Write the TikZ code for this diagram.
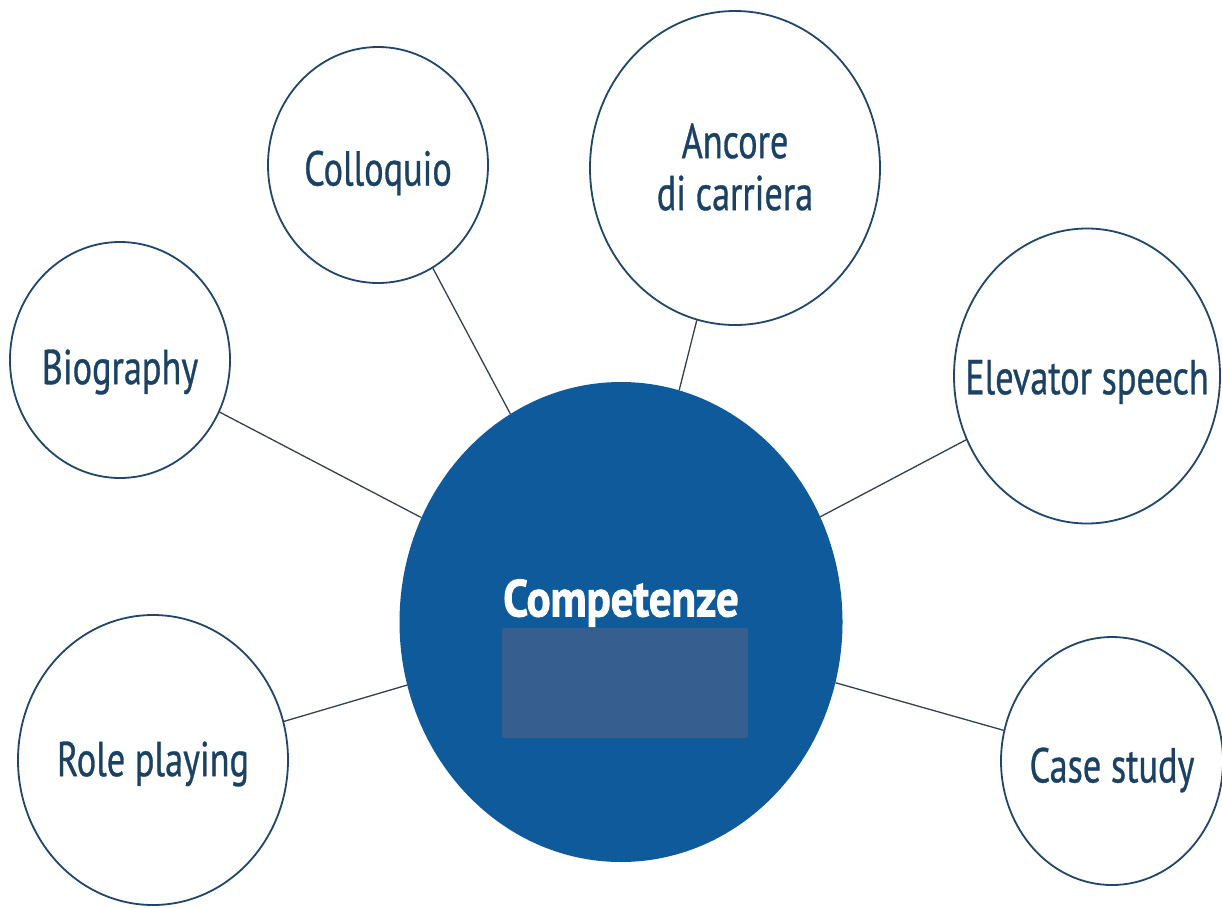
\documentclass[tikz,border=0pt]{standalone}
\usepackage{fontspec}
\setmainfont[FakeStretch=0.74,FakeBold=0.6]{PT Sans}
\newfontfamily\titlefont[FakeStretch=0.86,FakeBold=1.6]{PT Sans Bold}
\usetikzlibrary{shapes.geometric}
\definecolor{navy}{HTML}{20466A}
\definecolor{txt}{HTML}{1B4163}
\definecolor{mainblue}{HTML}{0F5A9A}
\definecolor{boxblue}{HTML}{365E8E}
\definecolor{linec}{HTML}{34404E}
\tikzset{
  bubble/.style={ellipse, draw=navy, line width=1.8pt, fill=white, inner sep=0pt},
  lbl/.style={text=txt, font=\fontsize{49}{52}\selectfont, align=center, inner sep=0pt},
  link/.style={draw=linec, line width=1.3pt},
}
\begin{document}
\begin{tikzpicture}[x=1pt,y=-1pt]
\useasboundingbox (0,0) rectangle (1222,907);
\node[ellipse, fill=mainblue, minimum width=443pt, minimum height=480pt, inner sep=0pt] (main) at (621,622) {};
\node[bubble, minimum width=220pt, minimum height=236pt] (bio) at (120,360) {};
\node[bubble, minimum width=220pt, minimum height=236pt] (col) at (378,165) {};
\node[bubble, minimum width=290pt, minimum height=314pt] (anc) at (735,168) {};
\node[bubble, minimum width=266pt, minimum height=295pt] (elev) at (1087,376) {};
\node[bubble, minimum width=270pt, minimum height=290pt] (role) at (153,760) {};
\node[bubble, minimum width=222pt, minimum height=248pt] (case) at (1112,761) {};
\node[lbl] (bioT) at ([yshift=-12pt]bio.center) {Biography};
\node[lbl] (colT) at ([yshift=-8pt]col.center) {Colloquio};
\node[lbl] (ancT) at ([yshift=1pt]anc.center) {Ancore\\di carriera};
\node[lbl] (elevT) at ([yshift=-6pt]elev.center) {Elevator speech};
\node[lbl] (roleT) at ([yshift=-4pt]role.center) {Role playing};
\node[lbl] (caseT) at ([yshift=-9pt]case.center) {Case study};
\draw[link] (bio) -- (main);
\draw[link] (col) -- (main);
\draw[link] (anc) -- (main);
\draw[link] (elev) -- (main);
\draw[link] (role) -- (main);
\draw[link] (case) -- (main);
\node[fill=boxblue, rounded corners=2pt, minimum width=246pt, minimum height=110pt, inner sep=0pt] (box) at (625,683) {};
\node[text=white, font=\titlefont\fontsize{52}{56}\selectfont, inner sep=0pt] (title) at (621,603) {Competenze};
\end{tikzpicture}
\end{document}
